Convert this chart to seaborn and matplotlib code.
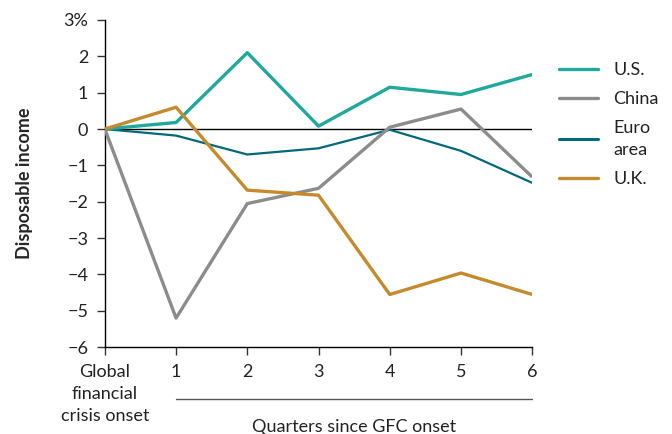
import numpy as np
import pandas as pd
import matplotlib
matplotlib.use("Agg")
import matplotlib.pyplot as plt
import matplotlib.transforms as mtransforms
from matplotlib.lines import Line2D
import seaborn as sns

# quarters since GFC onset
quarters = [0, 1, 2, 3, 4, 5, 6]
xtick_labels = ["Global\nfinancial\ncrisis onset", "1", "2", "3", "4", "5", "6"]

# disposable income change, %
us = [0, 0.18, 2.1, 0.08, 1.15, 0.95, 1.5]
china = [0, -5.2, -2.05, -1.63, 0.05, 0.55, -1.32]
euro = [0, -0.18, -0.7, -0.53, -0.02, -0.6, -1.48]
uk = [0, 0.6, -1.68, -1.82, -4.55, -3.96, -4.55]

series_names = ["U.S.", "China", "Euro\narea", "U.K."]
colors = {"U.S.": "#1fa89b", "China": "#8c8c8c", "Euro\narea": "#00697a", "U.K.": "#c48a2c"}
widths = {"U.S.": 2.4, "China": 2.4, "Euro\narea": 1.6, "U.K.": 2.4}

df = pd.DataFrame({
    "quarter": quarters * 4,
    "value": us + china + euro + uk,
    "series": sum([[n] * len(quarters) for n in series_names], []),
})

sns.set_style("white")
plt.rcParams["font.family"] = ["Lato", "DejaVu Sans"]
plt.rcParams["text.color"] = "#222222"

fig, ax = plt.subplots(figsize=(6.72, 4.34), dpi=100)
fig.subplots_adjust(left=0.156, right=0.792, top=0.954, bottom=0.2)

ax.axhline(0, color="black", lw=1, zorder=1)

# draw order: euro, china, us, uk
for name in ["Euro\narea", "China", "U.S.", "U.K."]:
    sns.lineplot(data=df[df["series"] == name], x="quarter", y="value",
                 color=colors[name], lw=widths[name], ax=ax, legend=False,
                 zorder=3, solid_capstyle="butt")

ax.set_xlim(0, 6)
ax.set_ylim(-6, 3)
ax.set_xticks(quarters)
ax.set_xticklabels(xtick_labels)
ax.set_yticks(range(-6, 4))
ax.set_yticklabels(["\u22126", "\u22125", "\u22124", "\u22123", "\u22122", "\u22121", "0", "1", "2", "3%"])
for lbl in ax.get_xticklabels():
    lbl.set_linespacing(1.45)

for s in ["top", "right"]:
    ax.spines[s].set_visible(False)
for s in ["left", "bottom"]:
    ax.spines[s].set_color("black")
    ax.spines[s].set_linewidth(1)

ax.tick_params(axis="both", direction="out", length=6, width=1, color="#333333",
               labelsize=13, labelcolor="#222222", pad=6, left=True, bottom=True)
ax.set_xlabel("")
ax.set_ylabel("Disposable income", fontsize=13, fontweight="bold", labelpad=22)

# bracket line under quarters 1-6
trans = mtransforms.blended_transform_factory(ax.transData, ax.transAxes)
ax.plot([1, 6], [-0.159, -0.159], transform=trans, color="#555555", lw=1, clip_on=False)
ax.text(3.5, -0.245, "Quarters since GFC onset", transform=trans, ha="center", va="center",
        fontsize=13)

handles = [Line2D([0], [0], color=colors[n], lw=2.4 if n != "Euro\narea" else 2.2) for n in series_names]
leg = ax.legend(handles, series_names, loc="upper left", bbox_to_anchor=(1.025, 0.92),
                frameon=False, fontsize=13, handlelength=2.17, handletextpad=0.83,
                labelspacing=0.72)
for t in leg.get_texts():
    t.set_linespacing(1.45)

plt.savefig("out.png", dpi=100)
